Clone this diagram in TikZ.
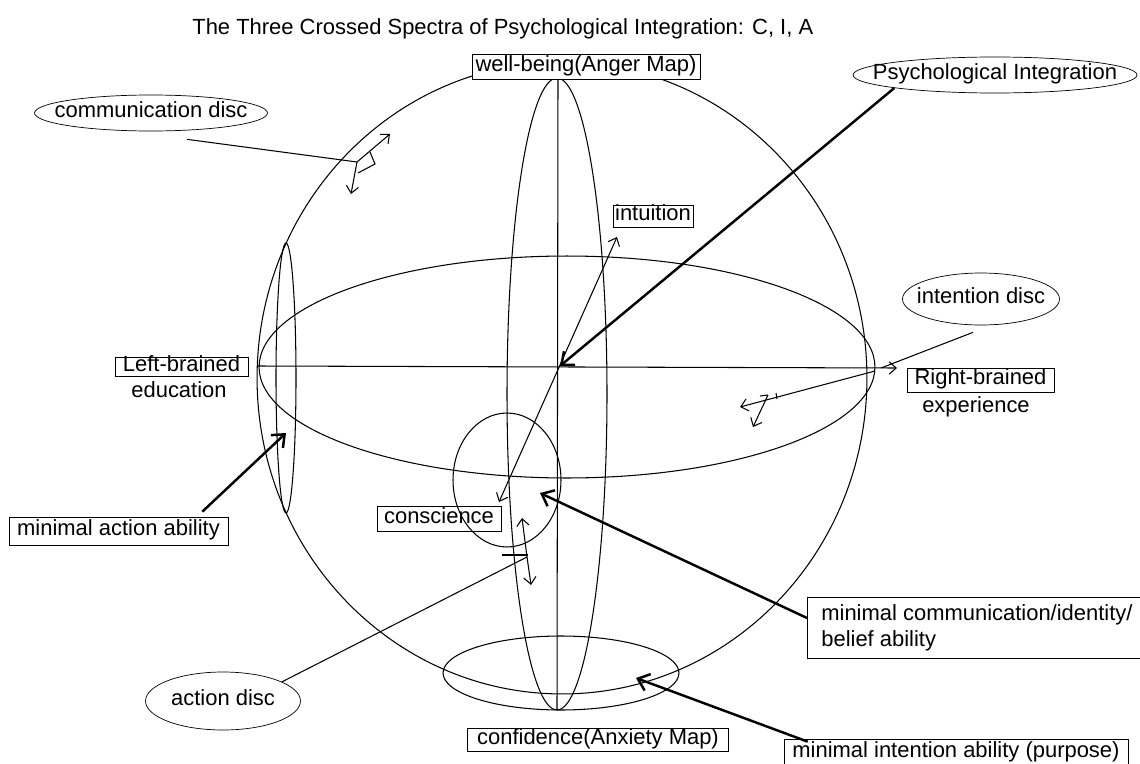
\documentclass[tikz,border=0pt]{standalone}
\usepackage{fontspec}
\setmainfont{Liberation Sans}
\usetikzlibrary{shapes.geometric,arrows.meta,calc}
\newcommand{\disctext}[1]{\makebox[0pt]{#1}}

\begin{document}
\begin{tikzpicture}[
    x=0.02cm, y=-0.02cm,
    every node/.style={font=\fontsize{12.5}{14.8}\selectfont},
    lbl/.style={draw, inner sep=0pt, text height=0.72em, text depth=0.2em},
    twoline/.style={draw, inner sep=0pt, align=left},
    disc/.style={draw, ellipse, inner sep=0pt, text height=0.72em, text depth=0.2em},
    plain/.style={inner sep=0pt, text height=0.72em, text depth=0.2em},
    fine/.style={line width=0.6pt},
    tip/.style={line width=0.6pt, -{Straight Barb[length=4pt,width=7pt]}},
    heavy/.style={line width=1.4pt, -{Straight Barb[length=6pt,width=10pt]}}
]
\useasboundingbox (0,0) rectangle (1140,764);

% --- sphere and its three crossed discs ---
\draw[fine] (562,378) ellipse [x radius=6.1cm, y radius=6.32cm];
\draw[fine] (557,394) ellipse [x radius=1cm, y radius=6.32cm];
\draw[fine] (567,367) ellipse [x radius=6.16cm, y radius=2.22cm];
\draw[fine] (286,378) ellipse [x radius=0.2cm, y radius=2.7cm];
\draw[fine] (561,673) ellipse [x radius=2.36cm, y radius=0.74cm];
\draw[fine] (507,480) ellipse [x radius=1.08cm, y radius=1.34cm];

% --- axes ---
\coordinate (ctr) at (560,366);
\coordinate (axtop) at (558,79);
\coordinate (axbot) at (557,710);
\coordinate (axleft) at (258,366);
\coordinate (axright) at (897,368);
\coordinate (intutip) at (617,237);
\coordinate (constip) at (499,502);
\draw[fine] (axtop) -- (axbot);
\draw[tip] (axleft) -- (axright);
\draw[fine, {Straight Barb[length=4pt,width=7pt]}-{Straight Barb[length=4pt,width=7pt]}] (constip) -- (intutip);

% --- labels ---
\node[anchor=base west, inner sep=0pt] (title) at (192,34.5) {The Three Crossed Spectra of Psychological Integration: C, I, A};
\node[lbl, fill=white, minimum width=4.56cm, minimum height=0.5cm] (well) at (586,66.5) {well-being(Anger Map)};
\node[disc, minimum width=4.66cm, minimum height=0.72cm] (comm) at (151,113) {\disctext{communication disc}};
\node[disc, minimum width=5.68cm, minimum height=0.72cm] (psy) at (995,75) {\disctext{Psychological Integration}};
\node[lbl, minimum width=1.6cm, minimum height=0.44cm] (intu) at (653,216) {intuition};
\node[disc, minimum width=3.14cm, minimum height=1.04cm] (int) at (981,299) {\disctext{intention disc}};
\node[lbl, minimum width=2.94cm, minimum height=0.48cm] (right) at (980.5,380) {Right-brained};
\node[plain] (exper) at (976,408) {experience};
\node[lbl, minimum width=2.66cm, minimum height=0.38cm] (left) at (181.5,366.5) {Left-brained};
\node[plain] (educ) at (179,393) {education};
\node[lbl, minimum width=4.38cm, minimum height=0.56cm] (mact) at (118.5,531) {minimal action ability};
\node[lbl, minimum width=2.48cm, minimum height=0.5cm] (consc) at (439,518.5) {conscience};
\node[disc, minimum width=3.1cm, minimum height=1.16cm] (act) at (223,701) {\disctext{action disc}};
\node[lbl, minimum width=5.22cm, minimum height=0.46cm] (conf) at (598,739.5) {confidence(Anxiety Map)};
\node[twoline, anchor=north west, inner xsep=0.28cm, minimum height=1.22cm] (mcomm) at (807,597) {minimal communication/identity/\\belief ability};
\node[lbl, minimum width=6.88cm, minimum height=0.56cm] (mint) at (956,753) {minimal intention ability (purpose)};

% --- communication disc marker ---
\coordinate (commpt) at (357,162);
\coordinate (commup) at (390,134);
\coordinate (commdn) at (351,194);
\draw[fine] ($(comm.south)+(36,8)$) -- (commpt);
\draw[tip] (commpt) -- (commup);
\draw[tip] (commpt) -- (commdn);
\draw[fine] (370,152) -- (375,164) -- (358,173);

% --- intention disc marker ---
\coordinate (intpt) at (881,368);
\coordinate (intend) at (740,407);
\coordinate (intup) at (768,395);
\coordinate (intdn) at (753,427);
\draw[fine] ($(int.south)+(-8,7)$) -- (intpt);
\draw[tip] (875,371) -- (intend);
\draw[fine] (760,396) -- (intup);
\draw[tip] (intup) -- (intdn);
\draw[fine] (776,393) -- (777,399);

% --- action disc marker ---
\coordinate (actpt) at (527,557);
\coordinate (actup) at (522,518);
\coordinate (actdn) at (531,585);
\draw[fine] (act.18) -- (actpt);
\draw[tip] (actpt) -- (actup);
\draw[tip] (actpt) -- (actdn);
\draw[fine] (502,555) -- (528,555);

% --- minimal abilities ---
\coordinate (mactpt) at (286,433);
\coordinate (mcommpt) at (540,493);
\coordinate (mintpt) at (636,678);
\draw[heavy] (psy.south west) -- (ctr);
\draw[heavy] ($(mact.north east)+(-26,-5)$) -- (mactpt);
\draw[heavy] ($(mcomm.north west)+(0,21)$) -- (mcommpt);
\draw[heavy] ($(mint.north west)+(24,3)$) -- (mintpt);

\end{tikzpicture}
\end{document}
